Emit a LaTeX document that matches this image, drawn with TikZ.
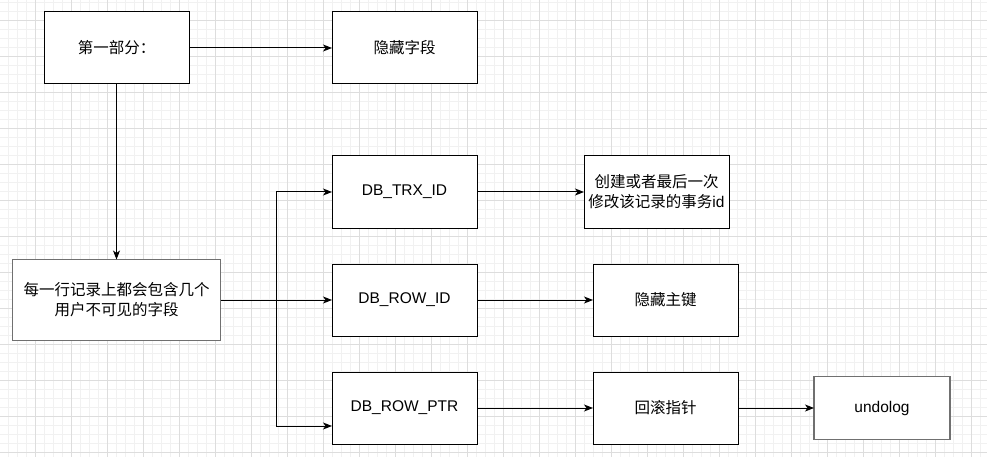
\documentclass[tikz,border=0pt]{standalone}
\usepackage{fontspec}
\setmainfont{Liberation Sans}
\newfontfamily\cjk{Noto Sans CJK SC}
\usepackage{tikz}
\usetikzlibrary{arrows.meta,positioning}
\definecolor{gridminor}{HTML}{F1F1F1}
\definecolor{gridmajor}{HTML}{DDDDDD}
\definecolor{edgegray}{HTML}{707070}

\begin{document}
\begin{tikzpicture}[
  x=1pt,y=-1pt,
  box/.style={draw,line width=1pt,inner sep=0pt,outer sep=0pt,minimum width=145pt,
              minimum height=72pt,align=center,fill=white,font=\fontsize{15.5}{20}\selectfont},
  wbox/.style={box,draw=edgegray,line width=1.3pt},
  arrow/.style={-{Stealth[length=9pt,width=7pt,inset=2.5pt]},line width=1pt}
]
  \useasboundingbox (0,0) rectangle (987,457);
  \fill[white] (0,0) rectangle (987,457);
  % background grid
  \foreach \gx in {8.5,17.5,...,986.5} \draw[gridminor,line width=0.8pt] (\gx,0) -- (\gx,457);
  \foreach \gy in {2.3,11.3,...,456.3} \draw[gridminor,line width=0.8pt] (0,\gy) -- (987,\gy);
  \foreach \gx in {35.5,71.5,...,971.5} \draw[gridmajor,line width=0.8pt] (\gx,0) -- (\gx,457);
  \foreach \gy in {20.3,56.3,...,452.3} \draw[gridmajor,line width=0.8pt] (0,\gy) -- (987,\gy);

  \node[box] (part1) at (116.5,48) {\cjk 第一部分：};
  \node[box,right=143pt of part1] (hidden) {\cjk 隐藏字段};
  \node[wbox,minimum width=208pt,minimum height=81pt,below=175.5pt of part1] (record)
    {\cjk 每一行记录上都会包含几个\\\cjk 用户不可见的字段};
  \node[box,below=72pt of hidden] (trx) {DB\_TRX\_ID};
  \node[box,below=36pt of trx] (rowid) {DB\_ROW\_ID};
  \node[box,below=36pt of rowid] (rowptr) {DB\_ROW\_PTR};
  \node[box,right=107pt of trx] (create) {\cjk 创建或者最后一次\\{\cjk 修改该记录的事务}id};
  \node[box,right=116pt of rowid] (hiddenkey) {\cjk 隐藏主键};
  \node[box,right=116pt of rowptr] (rollback) {\cjk 回滚指针};
  \node[wbox,minimum width=136pt,minimum height=63pt,right=76pt of rollback] (undolog) {undolog};
  \coordinate (fork) at ([xshift=56pt]record.east);

  \draw[arrow] (part1) -- (hidden);
  \draw[arrow] (part1) -- (record);
  \draw[arrow] (record) -- (rowid);
  \draw[arrow] (fork) |- (trx);
  \draw[arrow] (fork) |- ([yshift=-18pt]rowptr.west);
  \draw[arrow] (trx) -- (create);
  \draw[arrow] (rowid) -- (hiddenkey);
  \draw[arrow] (rowptr) -- (rollback);
  \draw[arrow] (rollback) -- (undolog);
\end{tikzpicture}
\end{document}
